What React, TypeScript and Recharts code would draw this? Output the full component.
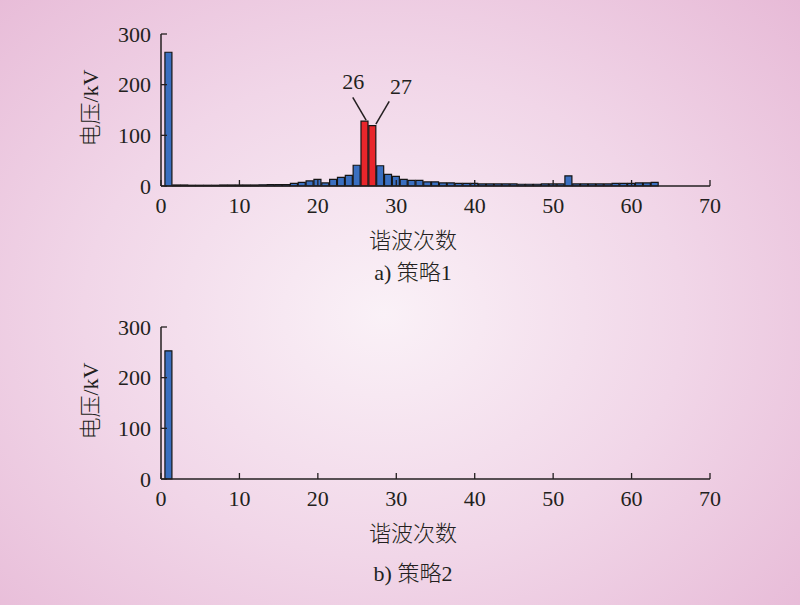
import { Bar, BarChart, Cell, ReferenceDot, ReferenceLine, XAxis, YAxis } from "recharts";

// harmonic orders 1..63
const harmonics = [
  1, 2, 3, 4, 5, 6, 7, 8, 9, 10, 11, 12, 13, 14, 15, 16, 17, 18, 19, 20, 21,
  22, 23, 24, 25, 26, 27, 28, 29, 30, 31, 32, 33, 34, 35, 36, 37, 38, 39, 40,
  41, 42, 43, 44, 45, 46, 47, 48, 49, 50, 51, 52, 53, 54, 55, 56, 57, 58, 59,
  60, 61, 62, 63,
];

// voltage (kV), strategy 1
const values1 = [
  264, 2, 2, 1.5, 1.5, 1.5, 1.5, 2, 2, 2, 2, 2, 2.5, 3, 3, 3, 5, 7, 10, 13, 6,
  13, 17, 21, 41, 128, 119, 40, 23, 19, 13, 11, 11, 8, 8, 6, 6, 5, 5, 5, 4, 4,
  4, 4, 4, 3.5, 3.5, 3.5, 4, 4, 4, 20, 4, 4, 4, 4, 4, 5, 5, 5, 6, 6, 7,
];

// voltage (kV), strategy 2
const values2 = [
  253, 0, 0, 0, 0, 0, 0, 0, 0, 0, 0, 0, 0, 0, 0, 0, 0, 0, 0, 0, 0, 0, 0, 0, 0,
  0, 0, 0, 0, 0, 0, 0, 0, 0, 0, 0, 0, 0, 0, 0, 0, 0, 0, 0, 0, 0, 0, 0, 0, 0, 0,
  0, 0, 0, 0, 0, 0, 0, 0, 0, 0, 0, 0,
];

const highlighted = [26, 27];
const xTicks = [0, 10, 20, 30, 40, 50, 60, 70];
const yTicks = [0, 100, 200, 300];

const data1 = harmonics.map((h, i) => ({ h, v: values1[i] }));
const data2 = harmonics.map((h, i) => ({ h, v: values2[i] }));

const INK = "#231f20";
const BLUE = "#3a6fc0";
const RED = "#e8262b";
const SERIF = "'Liberation Serif', 'Noto Sans CJK SC', serif";

const XTick = ({ x, y, payload }: any) => (
  <g>
    <line x1={x} y1={y} x2={x} y2={y - 6} stroke={INK} strokeWidth={1.3} />
    <text x={x} y={y + 27} textAnchor="middle" fontFamily={SERIF} fontSize={22} fill={INK}>
      {payload.value}
    </text>
  </g>
);

const YTick = ({ x, y, payload }: any) => (
  <g>
    <line x1={x} y1={y} x2={x + 6} y2={y} stroke={INK} strokeWidth={1.3} />
    <text x={x - 10} y={y + 7.5} textAnchor="end" fontFamily={SERIF} fontSize={22} fill={INK}>
      {payload.value}
    </text>
  </g>
);

const W = 800;
const H = 300;
const margin = { top: 34, right: 90, left: 101, bottom: 74 };

const Panel = ({ data, annotate }: { data: { h: number; v: number }[]; annotate: boolean }) => (
  <BarChart width={W} height={H} data={data} margin={margin}>
    <XAxis
      dataKey="h"
      type="number"
      domain={[0, 70]}
      ticks={xTicks}
      interval={0}
      tickLine={false}
      tickSize={0}
      tickMargin={0}
      height={40}
      axisLine={{ stroke: INK, strokeWidth: 1.5 }}
      tick={<XTick />}
    />
    <YAxis
      type="number"
      domain={[0, 300]}
      ticks={yTicks}
      interval={0}
      tickLine={false}
      tickSize={0}
      tickMargin={0}
      width={60}
      axisLine={{ stroke: INK, strokeWidth: 1.5 }}
      tick={<YTick />}
    />
    <Bar dataKey="v" barSize={7} stroke="#151515" strokeWidth={1.2} isAnimationActive={false}>
      {data.map((d) => (
        <Cell key={d.h} fill={annotate && highlighted.includes(d.h) ? RED : BLUE} />
      ))}
    </Bar>
    {annotate && (
      <ReferenceLine segment={[{ x: 24.45, y: 175 }, { x: 26.15, y: 130 }]} stroke={INK} strokeWidth={1.5} />
    )}
    {annotate && (
      <ReferenceLine segment={[{ x: 29.1, y: 167 }, { x: 27.4, y: 122 }]} stroke={INK} strokeWidth={1.5} />
    )}
    {annotate && (
      <ReferenceDot
        x={24.5}
        y={206}
        r={1}
        fill="none"
        stroke="none"
        label={{ value: "26", position: "center", fontSize: 22, fill: INK, fontFamily: SERIF }}
      />
    )}
    {annotate && (
      <ReferenceDot
        x={30.6}
        y={197}
        r={1}
        fill="none"
        stroke="none"
        label={{ value: "27", position: "center", fontSize: 22, fill: INK, fontFamily: SERIF }}
      />
    )}
  </BarChart>
);

const textStyle: React.CSSProperties = {
  position: "absolute",
  fontFamily: SERIF,
  fontSize: 22,
  fontWeight: 300,
  color: INK,
  whiteSpace: "nowrap",
  transform: "translate(-50%, -50%)",
};

const App = () => (
  <div
    style={{
      position: "absolute",
      left: 0,
      top: 0,
      width: 800,
      height: 605,
      overflow: "hidden",
      background: "radial-gradient(ellipse 75% 80% at 48% 52%, #faf1f7 0%, #f1d6e8 50%, #e6b7d5 100%)",
    }}
  >
    <div style={{ position: "absolute", left: 0, top: 0 }}>
      <Panel data={data1} annotate />
    </div>
    <div style={{ position: "absolute", left: 0, top: 293 }}>
      <Panel data={data2} annotate={false} />
    </div>

    <div style={{ ...textStyle, left: 88, top: 108, transform: "translate(-50%, -50%) rotate(-90deg)" }}>电压/kV</div>
    <div style={{ ...textStyle, left: 413, top: 238 }}>谐波次数</div>
    <div style={{ ...textStyle, left: 413, top: 270 }}>a) 策略1</div>

    <div style={{ ...textStyle, left: 88, top: 401, transform: "translate(-50%, -50%) rotate(-90deg)" }}>电压/kV</div>
    <div style={{ ...textStyle, left: 413, top: 531 }}>谐波次数</div>
    <div style={{ ...textStyle, left: 413, top: 571 }}>b) 策略2</div>
  </div>
);

export default App;
